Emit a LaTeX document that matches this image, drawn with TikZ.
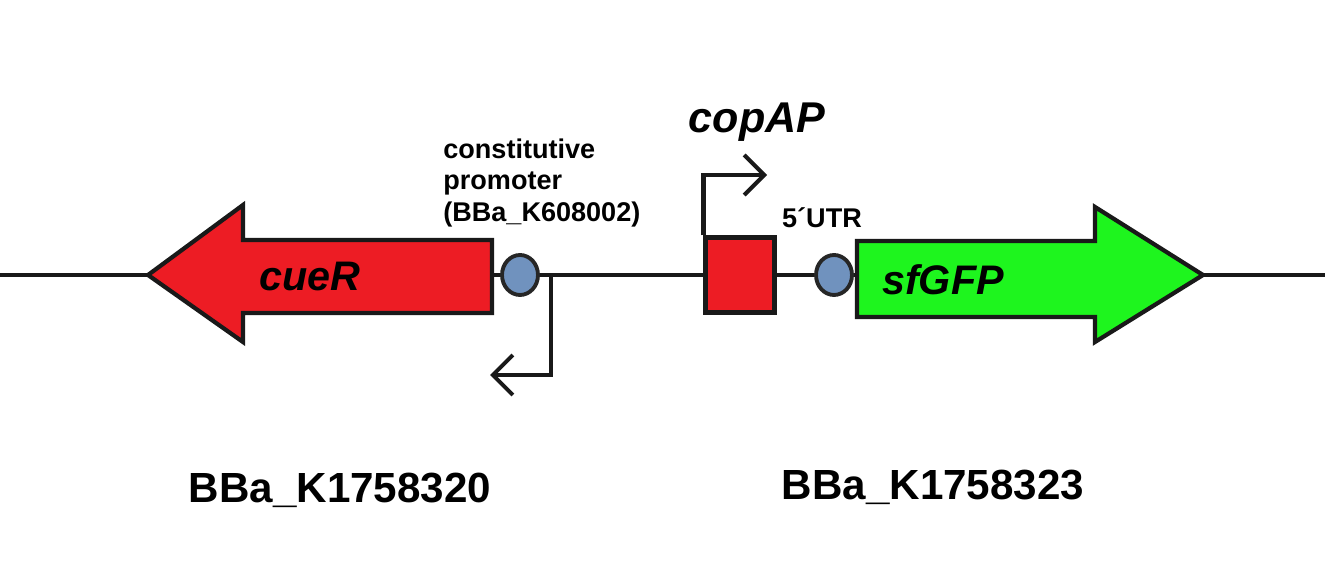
\documentclass[tikz,border=0pt]{standalone}
\usepackage{fontspec}
\setmainfont{Liberation Sans}
\usepackage{tikz}
\usetikzlibrary{arrows.meta, shapes.geometric, positioning}
\definecolor{genered}{RGB}{237,28,36}
\definecolor{genegreen}{RGB}{30,245,30}
\definecolor{rbsblue}{RGB}{112,146,190}
\tikzset{
  backbone/.style = {line width=2.3pt, black!90},
  gene/.style = {draw=black!90, line width=2.4pt, line join=miter},
  rbs/.style = {ellipse, draw=black!85, fill=rbsblue, line width=2.2pt,
    minimum width=0.72cm, minimum height=0.8cm, inner sep=0pt},
  prombox/.style = {rectangle, draw=black!90, fill=genered, line width=2.3pt,
    minimum width=1.38cm, minimum height=1.5cm, inner sep=0pt},
  promarrow/.style = {line width=2.3pt, black!90, line join=miter,
    -{Straight Barb[length=0.4cm, width=0.8cm, line width=2.3pt]}},
  genename/.style = {inner sep=0pt, font=\fontsize{23.5}{26}\selectfont\bfseries\itshape},
  partname/.style = {inner sep=0pt, font=\fontsize{24}{28}\selectfont\bfseries},
  small/.style = {inner sep=0pt, align=left, font=\fontsize{15.4}{17.8}\selectfont\bfseries}
}
\begin{document}
\begin{tikzpicture}[x=0.02cm, y=-0.02cm]
\useasboundingbox (0,0) rectangle (1325,573);
% backbone
\coordinate (left) at (0,275);
\coordinate (right) at (1325,275);
\draw[backbone] (left) -- (right);

% cueR, pointing left
\draw[gene, fill=genered] (492,240) -- (243,240) -- (243,205) -- (148,275)
  -- (243,342) -- (243,313) -- (492,313) -- cycle;
\node[genename] (cuer) at (310,277) {cueR};

% sfGFP, pointing right
\draw[gene, fill=genegreen] (857,241) -- (1095,241) -- (1095,207) -- (1203,275)
  -- (1095,342) -- (1095,317) -- (857,317) -- cycle;
\node[genename] (sfgfp) at (943,280) {sfGFP};

% RBS
\node[rbs] (rbs1) at (520,275) {};
\node[rbs] (rbs2) at (834,275) {};

% constitutive promoter
\coordinate (cp) at (551,275);
\coordinate (cpturn) at (551,375);
\coordinate (cpend) at (490,375);
\draw[promarrow] (cp) -- (cpturn) -- (cpend);
\node[small, anchor=west] (cplabel) at (443,183) {constitutive\\promoter\\(BBa\_K608002)};

% copA promoter
\node[prombox] (copbox) at (740,275) {};
\coordinate (copend) at (767,175);
\coordinate (copturn) at (copbox.north west |- copend);
\draw[promarrow] (copbox.north west) -- (copturn) -- (copend);
\node[genename, font=\fontsize{24.5}{28}\selectfont\bfseries\itshape] (copap) at (757,122) {copAP};
\node[small] (utr) at (822,218) {5´UTR};

% part numbers
\node[partname] (part1) at (340,490) {BBa\_K1758320};
\node[partname] (part2) at (933,487) {BBa\_K1758323};
\end{tikzpicture}
\end{document}
